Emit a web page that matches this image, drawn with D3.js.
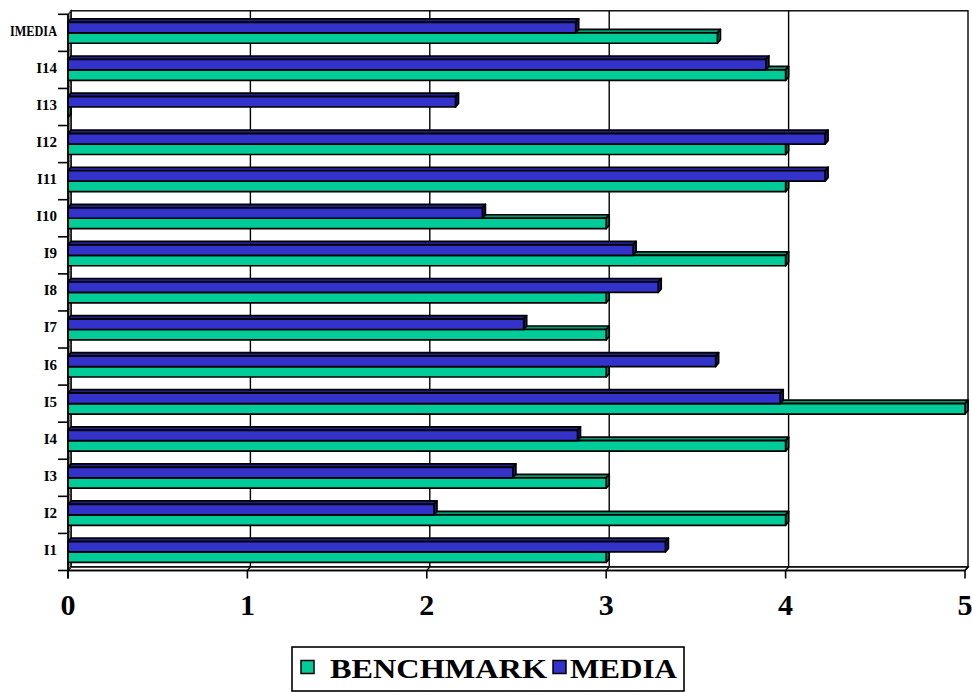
<!DOCTYPE html>
<html>
<head>
<meta charset="utf-8">
<script src="https://cdn.jsdelivr.net/npm/d3@7"></script>
<style>
  html, body { margin: 0; padding: 0; background: #fff; }
  svg { display: block; }
</style>
</head>
<body>
<svg id="chart" width="972" height="692"></svg>
<script>
const categories = ["I1","I2","I3","I4","I5","I6","I7","I8","I9","I10","I11","I12","I13","I14","IMEDIA"];
const benchmark = [3, 4, 3, 4, 5, 3, 3, 3, 4, 3, 4, 4, 0, 4, 3.62];
const media     = [3.33, 2.04, 2.48, 2.84, 3.97, 3.61, 2.54, 3.29, 3.15, 2.31, 4.22, 4.22, 2.16, 3.89, 2.83];
const xTicks = [0, 1, 2, 3, 4, 5];
const seriesNames = ["BENCHMARK", "MEDIA"];

const colors = {
  BENCHMARK: { front: "#00CC99", top: "#009a74", side: "#007a5c" },
  MEDIA:     { front: "#3333CC", top: "#20208a", side: "#1a1a70" }
};

const svg = d3.select("#chart");
const DX = 3, DY = -3.5;

const x = d3.scaleLinear().domain([0, 5]).range([68, 965]);
const y = d3.scaleBand().domain(categories.slice().reverse()).range([14.3, 570.5]);
const ys = d3.scaleBand().domain(["MEDIA", "BENCHMARK"]).range([0, y.bandwidth()]).paddingOuter(0.78).paddingInner(0);

const yTop = y.range()[0], yBot = y.range()[1];
const g = svg.append("g");

// back wall
g.append("rect")
  .attr("x", x(0) + DX).attr("y", yTop + DY)
  .attr("width", x(5) - x(0)).attr("height", yBot - yTop)
  .attr("fill", "#fff").attr("stroke", "#000").attr("stroke-width", 1.4);

// gridlines on back wall
g.selectAll(".grid").data(xTicks.filter(t => t > 0 && t < 5)).enter().append("line")
  .attr("x1", d => x(d) + DX).attr("x2", d => x(d) + DX)
  .attr("y1", yTop + DY).attr("y2", yBot + DY)
  .attr("stroke", "#000").attr("stroke-width", 1.4);

// side wall
g.append("polygon")
  .attr("points", [[x(0), yTop], [x(0) + DX, yTop + DY], [x(0) + DX, yBot + DY], [x(0), yBot]].map(p => p.join(",")).join(" "))
  .attr("fill", "#909090").attr("stroke", "#000").attr("stroke-width", 1.2);

// floor
g.append("polygon")
  .attr("points", [[x(0), yBot], [x(5), yBot], [x(5) + DX, yBot + DY], [x(0) + DX, yBot + DY]].map(p => p.join(",")).join(" "))
  .attr("fill", "#fff").attr("stroke", "#000").attr("stroke-width", 1.4);
g.selectAll(".floortick").data(xTicks).enter().append("line")
  .attr("x1", d => x(d)).attr("x2", d => x(d) + DX)
  .attr("y1", yBot).attr("y2", yBot + DY)
  .attr("stroke", "#000").attr("stroke-width", 1.2);

// side wall category ticks
g.selectAll(".sidetick").data(categories.concat(["_end"])).enter().append("line")
  .attr("x1", x(0)).attr("x2", x(0) + DX)
  .attr("y1", (d, i) => yBot - i * y.step()).attr("y2", (d, i) => yBot - i * y.step() + DY)
  .attr("stroke", "#555").attr("stroke-width", 1);

// bars
const bars = g.append("g");
categories.forEach((cat, i) => {
  const vals = { BENCHMARK: benchmark[i], MEDIA: media[i] };
  ["BENCHMARK", "MEDIA"].forEach(s => {
    const v = vals[s];
    const x0 = x(0), x1 = x(v);
    const yt = y(cat) + ys(s), yb = yt + ys.bandwidth();
    const c = colors[s];
    const bg = bars.append("g").attr("stroke", "#000").attr("stroke-width", 1.7).attr("stroke-linejoin", "round");
    bg.append("polygon")
      .attr("points", [[x0, yt], [x1, yt], [x1 + DX, yt + DY], [x0 + DX, yt + DY]].map(p => p.join(",")).join(" "))
      .attr("fill", c.top);
    bg.append("polygon")
      .attr("points", [[x1, yt], [x1 + DX, yt + DY], [x1 + DX, yb + DY], [x1, yb]].map(p => p.join(",")).join(" "))
      .attr("fill", c.side);
    bg.append("rect")
      .attr("x", x0).attr("y", yt).attr("width", Math.max(0, x1 - x0)).attr("height", yb - yt)
      .attr("fill", c.front);
  });
});

// y axis
g.append("line").attr("x1", x(0)).attr("x2", x(0)).attr("y1", yTop).attr("y2", yBot + 8)
  .attr("stroke", "#000").attr("stroke-width", 1.6);
g.selectAll(".ytick").data(d3.range(categories.length + 1)).enter().append("line")
  .attr("x1", x(0) - 10).attr("x2", x(0))
  .attr("y1", d => yBot - d * y.step()).attr("y2", d => yBot - d * y.step())
  .attr("stroke", "#000").attr("stroke-width", 1.6);

g.selectAll(".ylabel").data(categories).enter().append("text")
  .attr("x", 57).attr("y", d => y(d) + y.bandwidth() / 2 - 2)
  .attr("text-anchor", "end").attr("dominant-baseline", "central")
  .attr("font-family", "'Liberation Serif', 'Times New Roman', serif")
  .attr("font-weight", "bold").attr("font-size", 15)
  .text(d => d)
  .each(function () {
    const w = this.getComputedTextLength();
    if (w > 48) { d3.select(this).attr("textLength", 47).attr("lengthAdjust", "spacingAndGlyphs"); }
  });

// x axis
g.append("line").attr("x1", x(0)).attr("x2", x(5)).attr("y1", yBot).attr("y2", yBot)
  .attr("stroke", "#000").attr("stroke-width", 1.6);
g.selectAll(".xtick").data(xTicks).enter().append("line")
  .attr("x1", d => x(d)).attr("x2", d => x(d))
  .attr("y1", yBot).attr("y2", yBot + 8)
  .attr("stroke", "#000").attr("stroke-width", 1.6);
g.selectAll(".xlabel").data(xTicks).enter().append("text")
  .attr("x", d => x(d)).attr("y", 615)
  .attr("text-anchor", "middle")
  .attr("font-family", "'Liberation Serif', 'Times New Roman', serif")
  .attr("font-weight", "bold").attr("font-size", 30)
  .text(d => d);

// legend
const lg = svg.append("g");
lg.append("rect").attr("x", 292).attr("y", 647).attr("width", 392).attr("height", 44)
  .attr("fill", "#fff").attr("stroke", "#000").attr("stroke-width", 1.6);
const legendItems = [
  { name: seriesNames[0], sx: 301, tx: 330, tl: 217 },
  { name: seriesNames[1], sx: 553, tx: 570, tl: 107 }
];
legendItems.forEach(it => {
  lg.append("rect").attr("x", it.sx).attr("y", 660.5).attr("width", 13).attr("height", 13)
    .attr("fill", colors[it.name].front).attr("stroke", "#000").attr("stroke-width", 1.5);
  lg.append("text").attr("x", it.tx).attr("y", 678)
    .attr("font-family", "'Liberation Serif', 'Times New Roman', serif")
    .attr("font-weight", "bold").attr("font-size", 28)
    .attr("textLength", it.tl).attr("lengthAdjust", "spacingAndGlyphs")
    .text(it.name);
});
</script>
</body>
</html>
